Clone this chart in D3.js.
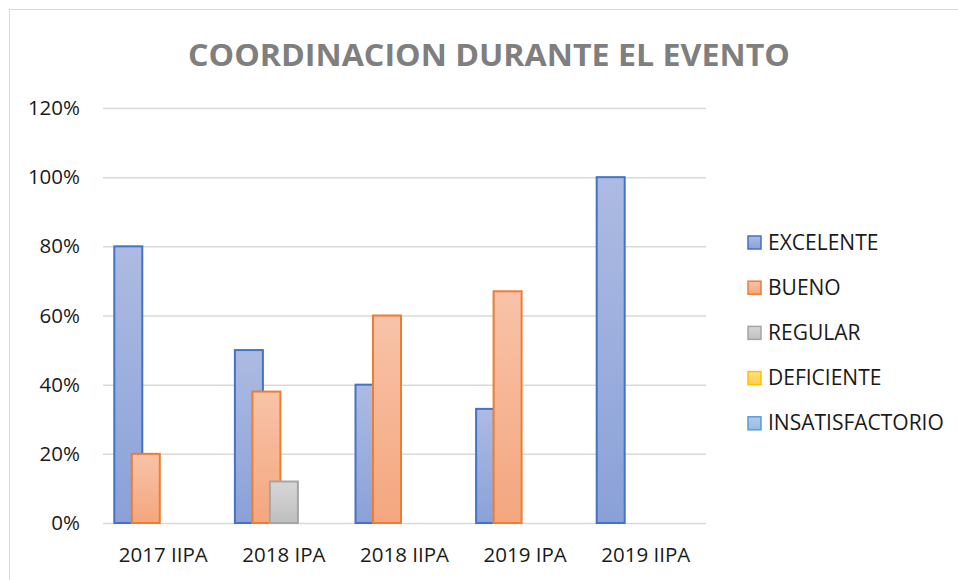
<!DOCTYPE html>
<html>
<head>
<meta charset="utf-8">
<script src="https://cdn.jsdelivr.net/npm/d3@7"></script>
<style>
  body { margin: 0; background: #fff; }
  svg { display: block; font-family: "Open Sans", sans-serif; }
</style>
</head>
<body>
<svg width="958" height="580"></svg>
<script>
var categories = ['2017 IIPA', '2018 IPA', '2018 IIPA', '2019 IPA', '2019 IIPA'];
var seriesNames = ['EXCELENTE', 'BUENO', 'REGULAR', 'DEFICIENTE', 'INSATISFACTORIO'];
var excelente = [80, 50, 40, 33, 100];
var bueno = [20, 38, 60, 67, 0];
var regular = [0, 12, 0, 0, 0];
var deficiente = [0, 0, 0, 0, 0];
var insatisfactorio = [0, 0, 0, 0, 0];
var yTicks = [0, 20, 40, 60, 80, 100, 120];

var values = [excelente, bueno, regular, deficiente, insatisfactorio];

// fill gradient top / bottom + outline per series
var colors = [
    { top: '#adbbe2', bottom: '#8aa1d8', stroke: '#4472c4' },
    { top: '#f8c3a8', bottom: '#f4a67e', stroke: '#ed7d31' },
    { top: '#d6d6d6', bottom: '#bfbfbf', stroke: '#a5a5a5' },
    { top: '#ffdf85', bottom: '#ffcf4a', stroke: '#ffc000' },
    { top: '#b1cdec', bottom: '#93bce3', stroke: '#5b9bd5' }
];

var svg = d3.select('svg');
var margin = { left: 103, right: 252, top: 108, bottom: 57 };
var W = 958, H = 580;
var fontSize = 20.5;

// outer chart frame
svg.append('rect')
    .attr('x', 9.5).attr('y', 9.5)
    .attr('width', 1000).attr('height', 1000)
    .attr('fill', 'none')
    .attr('stroke', '#d9d9d9');

var defs = svg.append('defs');
colors.forEach(function (c, i) {
    var g = defs.append('linearGradient')
        .attr('id', 'grad' + i)
        .attr('x1', 0).attr('y1', 0).attr('x2', 0).attr('y2', 1);
    g.append('stop').attr('offset', '0%').attr('stop-color', c.top);
    g.append('stop').attr('offset', '100%').attr('stop-color', c.bottom);
});

var x0 = d3.scaleBand()
    .domain(categories)
    .range([margin.left, W - margin.right]);

var x1 = d3.scaleBand()
    .domain(seriesNames)
    .range([-43.75, 43.75]);

var barW = 28;

var y = d3.scaleLinear()
    .domain([0, 120])
    .range([H - margin.bottom, margin.top]);

/* ----------- TITLE ----------- */
svg.append('text')
    .attr('x', 489)
    .attr('y', 66)
    .attr('text-anchor', 'middle')
    .attr('fill', '#7f7f7f')
    .attr('font-weight', 'bold')
    .attr('font-size', 31)
    .attr('textLength', 602)
    .attr('lengthAdjust', 'spacingAndGlyphs')
    .text('COORDINACION DURANTE EL EVENTO');

/* ----------- GRID + Y AXIS ----------- */
var yAxis = svg.append('g')
    .attr('transform', 'translate(' + margin.left + ',0)')
    .call(d3.axisLeft(y)
        .tickValues(yTicks)
        .tickSize(-(W - margin.left - margin.right))
        .tickPadding(23)
        .tickFormat(function (d) { return d + '%'; }));

yAxis.select('.domain').remove();
yAxis.selectAll('.tick line')
    .attr('stroke', '#d9d9d9')
    .attr('stroke-width', 1.5);
yAxis.selectAll('.tick text')
    .attr('fill', '#1a1a1a')
    .attr('font-size', fontSize)
    .attr('font-family', '"Open Sans", sans-serif');

/* ----------- X AXIS ----------- */
var xAxis = svg.append('g')
    .attr('transform', 'translate(0,' + (H - margin.bottom) + ')')
    .call(d3.axisBottom(x0).tickSize(0).tickPadding(24));
xAxis.select('.domain').remove();
xAxis.selectAll('.tick text')
    .attr('fill', '#1a1a1a')
    .attr('font-size', fontSize)
    .attr('font-family', '"Open Sans", sans-serif');

/* ----------- BARS ----------- */
var barData = [];
seriesNames.forEach(function (s, si) {
    categories.forEach(function (c, ci) {
        if (values[si][ci] > 0) {
            barData.push({ series: s, si: si, cat: c, value: values[si][ci] });
        }
    });
});

svg.append('g').attr('class', 'bars')
    .selectAll('rect')
    .data(barData)
    .enter()
    .append('rect')
    .attr('x', function (d) {
        return x0(d.cat) + x0.bandwidth() / 2 + x1(d.series) + x1.bandwidth() / 2 - barW / 2;
    })
    .attr('y', function (d) { return y(d.value); })
    .attr('width', barW)
    .attr('height', function (d) { return y(0) - y(d.value); })
    .attr('fill', function (d) { return 'url(#grad' + d.si + ')'; })
    .attr('stroke', function (d) { return colors[d.si].stroke; })
    .attr('stroke-width', 2);

/* ----------- LEGEND ----------- */
var legend = svg.append('g').attr('class', 'legend')
    .selectAll('g')
    .data(seriesNames)
    .enter()
    .append('g')
    .attr('transform', function (d, i) { return 'translate(748,' + (236 + i * 45.2) + ')'; });

legend.append('rect')
    .attr('width', 13).attr('height', 13)
    .attr('fill', function (d, i) { return 'url(#grad' + i + ')'; })
    .attr('stroke', function (d, i) { return colors[i].stroke; })
    .attr('stroke-width', 1.5);

legend.append('text')
    .attr('x', 20)
    .attr('y', 13.5)
    .attr('fill', '#1a1a1a')
    .attr('font-size', 21)
    .text(function (d) { return d; });
</script>
</body>
</html>
